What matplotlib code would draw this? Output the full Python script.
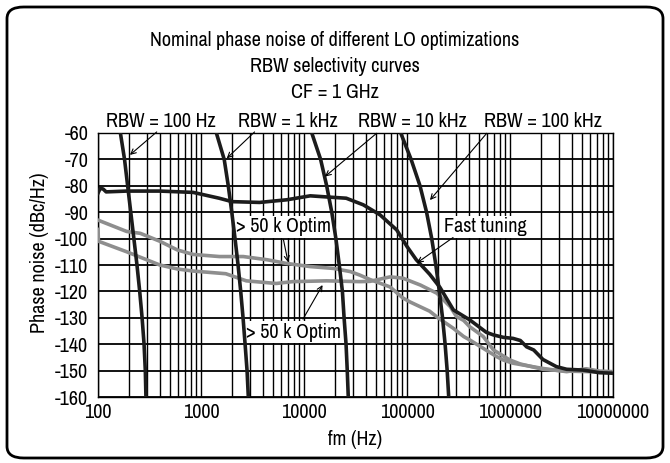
import numpy as np
import matplotlib
matplotlib.use('Agg')
import matplotlib.pyplot as plt
from matplotlib import font_manager
from matplotlib.patches import FancyBboxPatch
from matplotlib.ticker import FuncFormatter, LogLocator, NullFormatter, MultipleLocator

# pick a narrow face if one is installed
entries = font_manager.fontManager.ttflist
narrow = sorted({e.name for e in entries if 'Narrow' in e.name or 'Condensed' in e.name})
dv_cond = [e for e in entries if e.name == 'DejaVu Sans' and 'condensed' in str(e.stretch)]
if narrow:
    plt.rcParams['font.family'] = [narrow[0], 'DejaVu Sans']
    fs = 14.5
elif dv_cond:
    plt.rcParams['font.family'] = ['DejaVu Sans']
    plt.rcParams['font.stretch'] = 'condensed'
    fs = 12
else:
    plt.rcParams['font.family'] = ['Liberation Sans', 'DejaVu Sans']
    fs = 11.5
plt.rcParams['axes.unicode_minus'] = False

# selectivity curves, frequency (Hz) at each level
rbw_level = [-60, -70, -80, -90, -100, -110, -120, -130, -140, -150, -160]
rbw_100hz = [165, 181, 194, 208, 223, 239, 254, 268, 280, 288, 292]
rbw_1khz = [1410, 1680, 1840, 1990, 2140, 2290, 2430, 2560, 2680, 2800, 2880]
rbw_10khz = [11900, 14500, 16600, 18600, 20400, 22000, 23600, 24500, 25600, 26300, 26900]
rbw_100khz = [86900, 109600, 133700, 154900, 173800, 190500, 206100, 221300, 234400, 245500, 254100]

# fast tuning LO
fast_f = [100, 105, 112, 120, 190, 400, 840, 1500, 2000, 3700, 6800, 11500, 17800,
          25700, 37600, 54700, 79400, 100000, 123000, 166000, 209000, 282000, 407000,
          589000, 692000, 861000, 1070000, 1260000, 1450000, 1700000, 2090000,
          2820000, 3550000, 5130000, 7410000, 10000000]
fast_db = [-82.8, -81.0, -81.2, -82.3, -82.0, -82.0, -82.5, -84.7, -86.0, -86.3, -85.3,
           -83.8, -84.3, -84.7, -87.2, -91.0, -96.7, -103.0, -108.0, -113.5, -118.5,
           -127.0, -130.8, -135.5, -136.5, -137.4, -137.8, -138.6, -141.0, -142.2,
           -145.8, -148.5, -149.5, -149.8, -150.8, -151.0]

# > 50 k optimization, upper trace at low offsets
opt_a_f = [100, 190, 257, 398, 589, 841, 1510, 2570, 4370, 6760, 11500, 19300, 28200,
           34700, 43700, 68400, 91200, 107000, 166000, 200000, 282000, 355000, 407000,
           741000, 861000, 1070000, 2090000, 3550000, 5500000, 7410000, 10000000]
opt_a_db = [-93.0, -97.3, -98.0, -101.0, -104.3, -106.0, -106.8, -106.8, -108.0, -109.4,
            -110.6, -111.3, -112.5, -113.8, -115.5, -118.3, -122.5, -124.0, -127.5,
            -130.0, -134.0, -137.1, -138.4, -144.7, -146.0, -147.2, -149.2, -150.4,
            -149.3, -150.2, -150.4]

# > 50 k optimization, lower trace at low offsets
opt_b_f = [100, 101, 190, 398, 589, 841, 1740, 2750, 5370, 7760, 16600, 34700, 43700,
           68400, 91200, 135000, 195000, 263000, 302000, 355000, 407000, 550000, 692000,
           1000000, 1260000, 2090000, 3550000, 10000000]
opt_b_db = [-96.5, -101.0, -105.0, -110.0, -111.5, -112.3, -113.3, -116.0, -117.0,
            -116.3, -116.0, -116.3, -116.2, -114.5, -115.0, -117.6, -120.7, -125.8,
            -129.5, -131.0, -133.4, -137.1, -142.2, -146.0, -147.5, -149.5, -150.2,
            -150.6]

W, H = 670, 463
fig = plt.figure(figsize=(W / 100, H / 100), dpi=100)
ax = fig.add_axes([98 / W, 1 - 397 / H, 515 / W, 264 / H])

fig.patches.append(FancyBboxPatch((7 / W, 5 / H), 656 / W, 451 / H,
                                  boxstyle='round,pad=0,rounding_size=0.025',
                                  transform=fig.transFigure, fill=False,
                                  edgecolor='black', linewidth=2))

black = '#1c1c1c'
grey = '#8e8e8e'
for f in [rbw_100hz, rbw_1khz, rbw_10khz, rbw_100khz]:
    ax.plot(f, rbw_level, color=black, lw=2.6, zorder=4, solid_capstyle='butt')
ax.plot(opt_a_f, opt_a_db, color=grey, lw=2.6, zorder=3)
ax.plot(opt_b_f, opt_b_db, color=grey, lw=2.6, zorder=3)
ax.plot(fast_f, fast_db, color=black, lw=2.6, zorder=3)

ax.set_xscale('log')
ax.set_xlim(100, 1e7)
ax.set_ylim(-160, -60)
ax.yaxis.set_major_locator(MultipleLocator(10))
ax.xaxis.set_major_locator(LogLocator(base=10, numticks=10))
ax.xaxis.set_minor_locator(LogLocator(base=10, subs=np.arange(2, 10), numticks=20))
ax.xaxis.set_minor_formatter(NullFormatter())
ax.xaxis.set_major_formatter(FuncFormatter(lambda v, p: '%d' % round(v)))
ax.grid(True, which='major', axis='y', color='black', lw=1.3)
ax.grid(True, which='both', axis='x', color='black', lw=1.0)
ax.set_axisbelow(True)
ax.tick_params(which='both', length=0, labelsize=fs, colors='black')
ax.tick_params(axis='y', pad=7)
ax.tick_params(axis='x', pad=4)
for s in ax.spines.values():
    s.set_linewidth(1.0)

ax.set_xlabel('fm (Hz)', fontsize=fs, labelpad=6)
ax.set_ylabel('Phase noise (dBc/Hz)', fontsize=fs)
ax.yaxis.set_label_coords(-0.095, 0.545)

fig.text(0.5, 1 - 40 / H, 'Nominal phase noise of different LO optimizations',
         ha='center', va='center', fontsize=fs)
fig.text(0.5, 1 - 66 / H, 'RBW selectivity curves', ha='center', va='center', fontsize=fs)
fig.text(0.5, 1 - 92 / H, 'CF = 1 GHz', ha='center', va='center', fontsize=fs)

arrow = dict(arrowstyle='->', lw=0.8, color='black', shrinkA=0, shrinkB=0,
             mutation_scale=9)
# RBW labels and arrows
rbw_notes = [('RBW = 100 Hz', 2.61, (2.57, -59.6), (2.31, -68.3)),
             ('RBW = 1 kHz', 3.84, (3.52, -59.6), (3.25, -69.6)),
             ('RBW = 10 kHz', 5.05, (4.705, -60.1), (4.204, -76.5)),
             ('RBW = 100 kHz', 6.32, (5.774, -60.1), (5.223, -85.4))]
for name, lx, start, tip in rbw_notes:
    ax.text(10 ** lx, -55.6, name, ha='center', va='center', fontsize=fs,
            clip_on=False)
    ax.annotate('', xy=(10 ** tip[0], tip[1]), xytext=(10 ** start[0], start[1]),
                arrowprops=arrow, annotation_clip=False, zorder=5)

box = dict(facecolor='white', edgecolor='none', pad=1.0)
ax.text(10 ** 3.80, -95.6, '> 50 k Optim', ha='center', va='center', fontsize=fs,
        bbox=box, zorder=3.5)
ax.annotate('', xy=(10 ** 3.845, -108.9), xytext=(10 ** 3.80, -100.3),
            arrowprops=arrow, zorder=5)
ax.text(10 ** 3.90, -135.4, '> 50 k Optim', ha='center', va='center', fontsize=fs,
        bbox=box, zorder=3.5)
ax.annotate('', xy=(10 ** 4.18, -117.6), xytext=(10 ** 3.99, -130.5),
            arrowprops=arrow, zorder=5)
ax.text(10 ** 5.757, -95.6, 'Fast tuning', ha='center', va='center', fontsize=fs,
        bbox=box, zorder=3.5)
ax.annotate('', xy=(10 ** 5.097, -109.2), xytext=(10 ** 5.447, -99.6),
            arrowprops=arrow, zorder=5)

fig.savefig('out.png', dpi=100)
